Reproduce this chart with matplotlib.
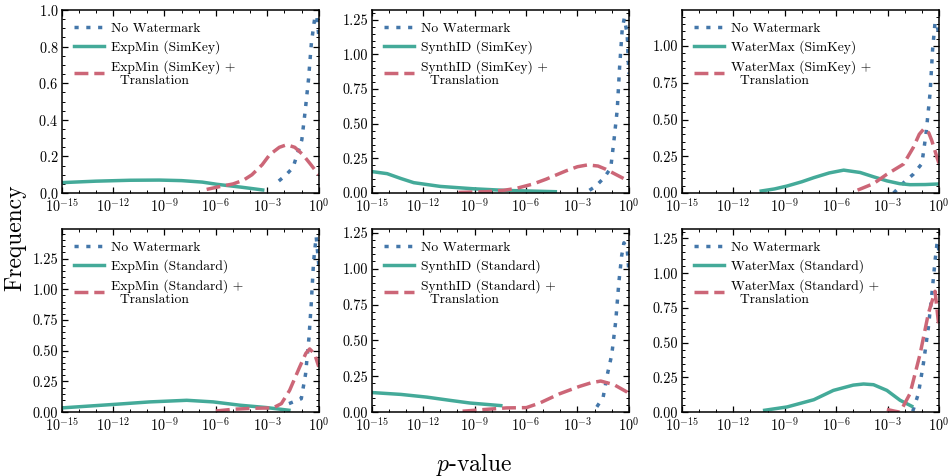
import numpy as np
import matplotlib
matplotlib.use("Agg")
import matplotlib.pyplot as plt
from matplotlib.ticker import AutoMinorLocator, FixedLocator, NullFormatter

plt.rcParams['font.family'] = ['cmr10', 'DejaVu Serif']
plt.rcParams['mathtext.fontset'] = 'cm'
plt.rcParams['axes.formatter.use_mathtext'] = True
plt.rcParams['axes.unicode_minus'] = False

# log10(p-value) grid points and KDE heights, one pair per curve

# ExpMin (SimKey)
em_sim_nowm_lp = [-2.33, -1.9, -1.5, -0.99, -0.79, -0.6, -0.43, -0.23, -0.12, 0.0]
em_sim_nowm_f = [0.066, 0.10, 0.14, 0.29, 0.45, 0.62, 0.82, 0.96, 0.97, 0.86]
em_sim_wm_lp = [-15.0, -13.0, -11.0, -9.3, -8.0, -6.8, -5.95, -4.5, -3.27]
em_sim_wm_f = [0.057, 0.065, 0.070, 0.071, 0.068, 0.060, 0.048, 0.032, 0.017]
em_sim_tr_lp = [-6.54, -5.8, -5.0, -4.4, -3.9, -3.3, -2.86, -2.3, -1.87, -1.4, -0.93, -0.5, 0.0]
em_sim_tr_f = [0.02, 0.035, 0.05, 0.07, 0.10, 0.155, 0.21, 0.25, 0.264, 0.25, 0.21, 0.16, 0.10]

# SynthID (SimKey)
sy_sim_nowm_lp = [-2.3, -1.93, -1.45, -1.06, -0.87, -0.68, -0.54, -0.39, -0.27, -0.1, 0.0]
sy_sim_nowm_f = [0.02, 0.05, 0.11, 0.18, 0.38, 0.60, 0.91, 1.18, 1.26, 1.15, 0.86]
sy_sim_wm_lp = [-15.0, -14.1, -13.3, -12.55, -11.0, -9.07, -7.14, -4.29]
sy_sim_wm_f = [0.155, 0.14, 0.105, 0.075, 0.048, 0.031, 0.019, 0.01]
sy_sim_tr_lp = [-9.94, -8.3, -7.3, -6.56, -5.6, -4.83, -3.67, -3.0, -2.41, -1.8, -1.35, -0.29, 0.0]
sy_sim_tr_f = [0.005, 0.01, 0.02, 0.034, 0.065, 0.10, 0.16, 0.19, 0.203, 0.195, 0.172, 0.104, 0.09]

# WaterMax (SimKey)
wx_sim_nowm_lp = [-2.65, -2.07, -1.5, -1.0, -0.76, -0.52, -0.37, -0.23, -0.1, 0.0]
wx_sim_nowm_f = [0.0, 0.07, 0.128, 0.20, 0.40, 0.68, 0.98, 1.16, 1.15, 1.05]
wx_sim_wm_lp = [-10.37, -9.6, -8.86, -8.0, -7.3, -6.4, -5.56, -4.6, -3.8, -3.04, -2.3, -1.69, -0.8, 0.0]
wx_sim_wm_f = [0.014, 0.028, 0.048, 0.077, 0.105, 0.137, 0.156, 0.14, 0.11, 0.083, 0.064, 0.057, 0.058, 0.062]
wx_sim_tr_lp = [-4.75, -3.82, -3.04, -2.07, -1.5, -1.15, -0.87, -0.6, -0.43, 0.0]
wx_sim_tr_f = [0.02, 0.064, 0.128, 0.197, 0.31, 0.40, 0.438, 0.41, 0.36, 0.20]

# ExpMin (Standard)
em_std_nowm_lp = [-1.74, -1.02, -0.77, -0.57, -0.44, -0.3, -0.15, 0.0]
em_std_nowm_f = [0.07, 0.11, 0.31, 0.61, 0.88, 1.23, 1.43, 1.20]
em_std_wm_lp = [-15.0, -11.8, -9.85, -7.7, -6.16, -4.6, -3.06, -1.74]
em_std_wm_f = [0.035, 0.065, 0.084, 0.097, 0.084, 0.057, 0.038, 0.016]
em_std_tr_lp = [-6.0, -5.0, -3.83, -2.67, -2.18, -1.7, -1.12, -0.75, -0.53, -0.24, 0.0]
em_std_tr_f = [0.01, 0.024, 0.032, 0.035, 0.07, 0.178, 0.366, 0.48, 0.515, 0.474, 0.37]

# SynthID (Standard)
sy_std_nowm_lp = [-1.87, -1.5, -1.25, -1.0, -0.77, -0.58, -0.42, -0.29, -0.1, 0.0]
sy_std_nowm_f = [0.037, 0.105, 0.266, 0.40, 0.63, 0.91, 1.09, 1.18, 1.14, 0.98]
sy_std_wm_lp = [-15.0, -13.3, -11.78, -10.4, -9.27, -7.47]
sy_std_wm_f = [0.137, 0.124, 0.105, 0.082, 0.064, 0.046]
sy_std_tr_lp = [-9.7, -8.3, -7.14, -5.98, -5.2, -4.05, -2.9, -2.2, -1.64, -0.87, -0.1, 0.0]
sy_std_tr_f = [0.007, 0.02, 0.03, 0.032, 0.064, 0.128, 0.179, 0.205, 0.217, 0.192, 0.14, 0.13]

# WaterMax (Standard)
wx_std_nowm_lp = [-1.53, -1.2, -0.91, -0.62, -0.43, -0.23, -0.1, 0.0]
wx_std_nowm_f = [0.007, 0.134, 0.35, 0.61, 0.83, 1.09, 1.23, 1.16]
wx_std_wm_lp = [-10.17, -8.86, -7.3, -6.16, -5.0, -4.4, -3.82, -3.04, -2.27, -1.59]
wx_std_wm_f = [0.014, 0.038, 0.09, 0.157, 0.195, 0.203, 0.198, 0.157, 0.086, 0.043]
wx_std_tr_lp = [-3.04, -2.6, -2.27, -1.69, -1.1, -0.62, -0.23, 0.0]
wx_std_tr_f = [0.02, 0.008, 0.0, 0.134, 0.42, 0.71, 0.87, 0.61]

methods = ['ExpMin', 'SynthID', 'WaterMax']
variants = ['SimKey', 'Standard']
curves = {
    ('SimKey', 'ExpMin'): (em_sim_nowm_lp, em_sim_nowm_f, em_sim_wm_lp, em_sim_wm_f, em_sim_tr_lp, em_sim_tr_f),
    ('SimKey', 'SynthID'): (sy_sim_nowm_lp, sy_sim_nowm_f, sy_sim_wm_lp, sy_sim_wm_f, sy_sim_tr_lp, sy_sim_tr_f),
    ('SimKey', 'WaterMax'): (wx_sim_nowm_lp, wx_sim_nowm_f, wx_sim_wm_lp, wx_sim_wm_f, wx_sim_tr_lp, wx_sim_tr_f),
    ('Standard', 'ExpMin'): (em_std_nowm_lp, em_std_nowm_f, em_std_wm_lp, em_std_wm_f, em_std_tr_lp, em_std_tr_f),
    ('Standard', 'SynthID'): (sy_std_nowm_lp, sy_std_nowm_f, sy_std_wm_lp, sy_std_wm_f, sy_std_tr_lp, sy_std_tr_f),
    ('Standard', 'WaterMax'): (wx_std_nowm_lp, wx_std_nowm_f, wx_std_wm_lp, wx_std_wm_f, wx_std_tr_lp, wx_std_tr_f),
}
ytops = {
    ('SimKey', 'ExpMin'): 1.0, ('SimKey', 'SynthID'): 1.32, ('SimKey', 'WaterMax'): 1.245,
    ('Standard', 'ExpMin'): 1.49, ('Standard', 'SynthID'): 1.275, ('Standard', 'WaterMax'): 1.317,
}

c_nowm = '#4477AA'
c_wm = '#44AA99'
c_tr = '#CC6677'
lw = 2.5

fig, axes = plt.subplots(2, 3, figsize=(9.48, 4.76), dpi=100)
fig.subplots_adjust(left=0.065, right=0.9905, top=0.979, bottom=0.134,
                    wspace=0.206, hspace=0.197)

for i, var in enumerate(variants):
    for j, m in enumerate(methods):
        ax = axes[i, j]
        nlp, nf, wlp, wf, tlp, tf = curves[(var, m)]
        ax.plot(10.0 ** np.array(nlp), nf, ls=(0, (1.2, 2.2)), color=c_nowm, lw=lw,
                label='No Watermark')
        ax.plot(10.0 ** np.array(wlp), wf, ls='-', color=c_wm, lw=lw, label='%s (%s)' % (m, var))
        ax.plot(10.0 ** np.array(tlp), tf, ls=(0, (4.0, 1.7)), color=c_tr, lw=lw,
                label='%s (%s) +\n  Translation' % (m, var))
        ax.set_xscale('log')
        ax.set_xlim(1e-15, 1e0)
        ax.xaxis.set_major_locator(FixedLocator([1e-15, 1e-12, 1e-9, 1e-6, 1e-3, 1e0]))
        ax.xaxis.set_minor_locator(FixedLocator(10.0 ** np.arange(-15, 1)))
        ax.xaxis.set_minor_formatter(NullFormatter())
        if ytops[(var, m)] > 1.0:
            ax.set_yticks([0, 0.25, 0.5, 0.75, 1.0, 1.25])
            ax.set_yticklabels(['0.00', '0.25', '0.50', '0.75', '1.00', '1.25'])
        ax.yaxis.set_minor_locator(AutoMinorLocator())
        ax.set_ylim(0, ytops[(var, m)])
        ax.tick_params(which='both', direction='in', top=True, right=True, labelsize=10.3, pad=2.5)
        ax.tick_params(which='major', length=4, width=0.9)
        ax.tick_params(which='minor', length=2, width=0.7)
        for s in ax.spines.values():
            s.set_linewidth(1.1)
        leg = ax.legend(loc='upper left', frameon=False, fontsize=9.8, handlelength=2.2,
                        handletextpad=0.5, labelspacing=0.42, borderaxespad=0.5)
        for t in leg.get_texts():
            t.set_linespacing(1.12)

fig.text(0.016, 0.5, 'Frequency', rotation=90, ha='center', va='center', fontsize=17)
fig.text(0.5, 0.025, r'$p$-value', ha='center', va='center', fontsize=17)

fig.savefig('out.png', dpi=100)
